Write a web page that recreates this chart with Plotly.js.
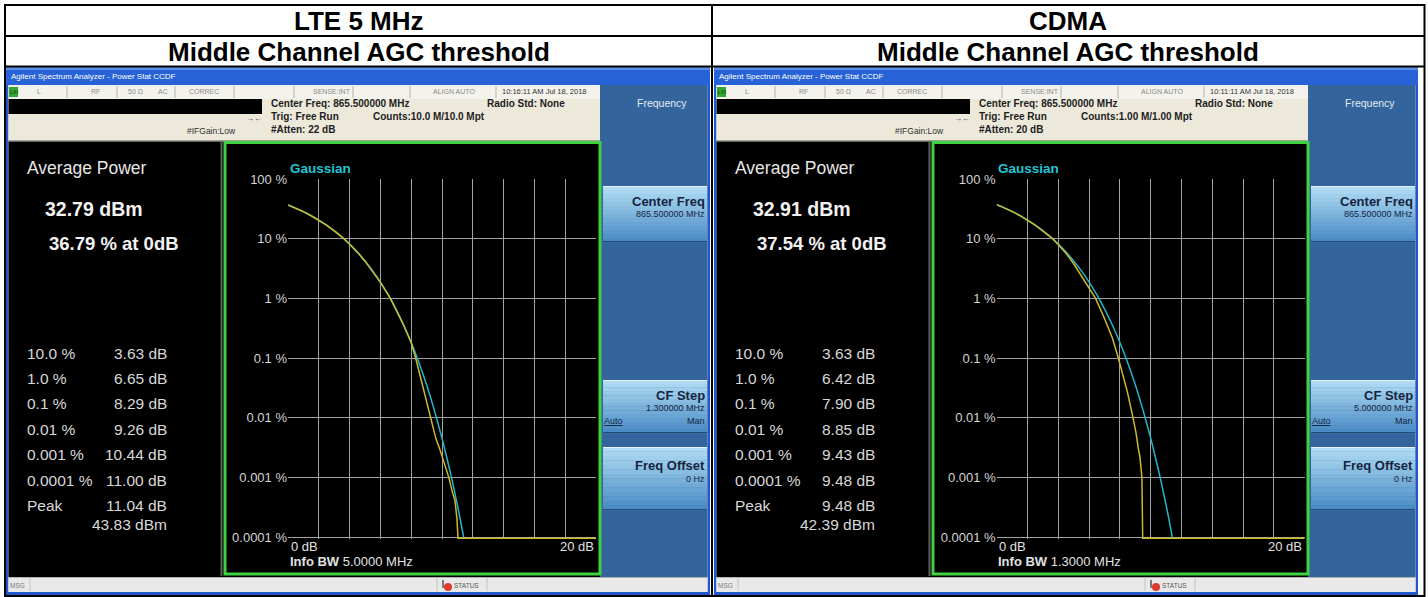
<!DOCTYPE html>
<html>
<head>
<meta charset="utf-8">
<script src="https://cdn.plot.ly/plotly-3.0.1.min.js"></script>
<style>
  html, body { margin: 0; padding: 0; background: #ffffff; }
  #chart { width: 1428px; height: 597px; }
</style>
</head>
<body>
<div id="chart"></div>
<script>
// ---------------- measurement data ----------------
const panelHeads = ['LTE 5 MHz', 'CDMA'];
const panelSubHead = 'Middle Channel AGC threshold';

// CCDF probability axis (percent)
const ccdfTickVals = [0.0001, 0.001, 0.01, 0.1, 1, 10, 100];
const ccdfTickText = ['0.0001 %', '0.001 %', '0.01 %', '0.1 %', '1 %', '10 %', '100 %'];

// Gaussian reference trace (dB above average power, percent of time)
const gaussDb  = [0, 0.5, 1, 1.5, 2, 2.5, 3, 3.5, 4, 4.5, 5, 5.5, 6, 6.5, 7, 7.5, 8, 8.5, 9, 9.5, 10, 10.5, 10.75, 11, 11.1, 11.2, 11.3, 11.42];
const gaussPct = [36.79, 32.56, 28.40, 24.35, 20.50, 16.90, 13.60, 10.66, 8.11, 5.97, 4.23, 2.88, 1.87, 1.15, 0.665, 0.361, 0.182, 0.0843, 0.0355, 0.0134, 0.00454, 0.00134, 0.000689, 0.000343, 0.000255, 0.000188, 0.000138, 0.000095];

// LTE 5 MHz measured CCDF trace
const lteDb  = [0, 0.5, 1, 1.5, 2, 2.5, 3, 3.63, 4, 4.5, 5, 5.5, 6, 6.65, 7, 7.5, 8, 8.29, 8.6, 8.9, 9.1, 9.26, 9.45, 9.6, 9.85, 10.1, 10.3, 10.44, 10.65, 10.85, 10.97, 11.00, 11.04, 20];
const ltePct = [36.79, 32.4, 28.3, 24.2, 20.4, 16.8, 13.5, 10.0, 8.05, 5.95, 4.2, 2.85, 1.85, 1.0, 0.66, 0.36, 0.18, 0.1, 0.048, 0.024, 0.015, 0.01, 0.0065, 0.0045, 0.003, 0.0019, 0.0013, 0.001, 0.0006, 0.0004, 0.0002, 0.0001, 0.000095, 0.000095];

// CDMA measured CCDF trace
const cdmaDb  = [0, 0.5, 1, 1.5, 2, 2.5, 3, 3.63, 4, 4.5, 5, 5.5, 6, 6.42, 7, 7.5, 7.90, 8.2, 8.5, 8.85, 9.05, 9.2, 9.3, 9.43, 9.46, 9.48, 9.48, 20];
const cdmaPct = [37.54, 33.0, 28.7, 24.5, 20.5, 16.8, 13.4, 10.0, 7.9, 5.7, 3.8, 2.35, 1.45, 1.0, 0.46, 0.22, 0.1, 0.052, 0.026, 0.01, 0.0055, 0.003, 0.0022, 0.001, 0.0004, 0.0001, 0.000095, 0.000095];

// Statistics read-outs
const statLabels = ['10.0 %', '1.0 %', '0.1 %', '0.01 %', '0.001 %', '0.0001 %', 'Peak'];
const lteStatDb  = [3.63, 6.65, 8.29, 9.26, 10.44, 11.00, 11.04];
const cdmaStatDb = [3.63, 6.42, 7.90, 8.85, 9.43, 9.48, 9.48];
const avgPowerDbm = [32.79, 32.91];
const pctAt0dB    = [36.79, 37.54];
const peakDbm     = [43.83, 42.39];
const infoBw      = ['5.0000 MHz', '1.3000 MHz'];
const cfStep      = ['1.300000 MHz', '5.000000 MHz'];
const timeStamps  = ['10:16:11 AM Jul 18, 2018', '10:11:11 AM Jul 18, 2018'];
const countsText  = ['Counts:10.0 M/10.0 Mpt', 'Counts:1.00 M/1.00 Mpt'];
const attenText   = ['#Atten: 22 dB', '#Atten: 20 dB'];
const centerFreq  = '865.500000 MHz';

// ---------------- drawing helpers ----------------
const W = 1428, H = 597;
const FONT = 'Liberation Sans, Arial, sans-serif';
const YELLOW = '#cdb92c';
const CYAN = '#25b4c7';
const GRID = '#a2a2a2';
const shapes = [];
const annotations = [];
const X = x => x / W;
const Y = y => 1 - y / H;

function box(x0, y0, x1, y1, fill, line, layer) {
  shapes.push({
    type: 'rect', xref: 'paper', yref: 'paper',
    x0: X(x0), x1: X(x1), y0: Y(y1), y1: Y(y0),
    fillcolor: fill || 'rgba(0,0,0,0)',
    line: line ? { color: line.color, width: line.width } : { width: 0 },
    layer: layer || 'below'
  });
}
function seg(x0, y0, x1, y1, color, width, layer) {
  shapes.push({
    type: 'line', xref: 'paper', yref: 'paper',
    x0: X(x0), x1: X(x1), y0: Y(y0), y1: Y(y1),
    line: { color: color, width: width }, layer: layer || 'below'
  });
}
function note(x, y, text, o) {
  o = o || {};
  annotations.push({
    xref: o.xref || 'paper', yref: 'paper',
    x: o.xref ? x : X(x), y: Y(y),
    text: text, showarrow: false,
    xanchor: o.anchor || 'left', yanchor: 'middle',
    xshift: o.xshift || 0,
    borderpad: 0, borderwidth: 0,
    font: { family: o.family || FONT, size: o.size || 12, color: o.color || '#000000' }
  });
}
function mix(c0, c1, t) {
  const r = Math.round(c0[0] + (c1[0] - c0[0]) * t);
  const g = Math.round(c0[1] + (c1[1] - c0[1]) * t);
  const b = Math.round(c0[2] + (c1[2] - c0[2]) * t);
  return 'rgb(' + r + ',' + g + ',' + b + ')';
}
// soft-key button with a top-to-bottom shading
function softButton(x0, y0, x1, y1) {
  const n = 14, top = [176, 219, 242], bottom = [74, 140, 198];
  const h = (y1 - y0) / n;
  for (let i = 0; i < n; i++) {
    box(x0, y0 + i * h, x1, y0 + (i + 1) * h + 0.3, mix(top, bottom, i / (n - 1)));
  }
  seg(x0, y0 + 0.5, x1, y0 + 0.5, '#e2f2fb', 1);
  seg(x0, y1 - 0.5, x1, y1 - 0.5, '#24476f', 1);
}

// one analyzer screen; dx shifts it horizontally
function drawScreen(dx, k) {
  const L = x => x + dx;

  // window title bar
  box(L(6), 67, L(710), 85, '#2763d6');
  box(L(6), 67, L(710), 70, '#5a8fe6');
  note(L(11), 76.5, 'Agilent Spectrum Analyzer - Power Stat CCDF', { size: 8, color: '#ffffff' });

  // window frame
  box(L(6), 85, L(8.5), 595, '#2157c9');
  box(L(707.5), 85, L(710), 595, '#2157c9');
  box(L(6), 592, L(710), 595, '#2157c9');

  // status line
  box(L(8.5), 85, L(600), 99, '#f4f2ec');
  box(L(9), 87, L(18), 97, '#34a834');
  note(L(9.5), 92, 'LXI', { size: 5.5, color: '#0a3a0a' });
  [67, 117, 175, 234, 294, 353, 410, 496].forEach(x => seg(L(x), 86, L(x), 98, '#b4b2aa', 1));
  const statusItems = [[37, 'L'], [91, 'RF'], [128, '50 Ω'], [158, 'AC'], [189, 'CORREC'], [313, 'SENSE:INT'], [433, 'ALIGN AUTO']];
  statusItems.forEach(s => note(L(s[0]), 92, s[1], { size: 7, color: '#8a8a8a' }));
  note(L(502), 92, timeStamps[k], { size: 7.5, color: '#333333' });

  // measurement setup area
  box(L(8.5), 99, L(600), 141, '#ece8da');
  box(L(8.5), 99, L(262), 114, '#000000');
  note(L(271), 103.5, '<b>Center Freq: ' + centerFreq + '</b>', { size: 10, color: '#1e1e1e' });
  note(L(487), 103.5, '<b>Radio Std: None</b>', { size: 10, color: '#1e1e1e' });
  note(L(271), 116.5, '<b>Trig: Free Run</b>', { size: 10, color: '#1e1e1e' });
  note(L(373), 116.5, '<b>' + countsText[k] + '</b>', { size: 10, color: '#1e1e1e' });
  note(L(271), 129.5, '<b>' + attenText[k] + '</b>', { size: 10, color: '#1e1e1e' });
  note(L(187), 131, '#IFGain:Low', { size: 8.5, color: '#303030' });
  note(L(246), 119, '→←', { size: 8, color: '#303030' });

  // display background
  box(L(8.5), 141, L(601), 577, '#000000');
  seg(L(8.5), 141, L(601), 141, '#8f8b80', 1.5);
  seg(L(221.5), 142, L(221.5), 576, '#5e5e5e', 2);

  // soft-key column
  box(L(600), 85, L(707.5), 577, '#33649c');
  note(L(662), 103, 'Frequency', { size: 10.5, color: '#e2ebf5', anchor: 'center' });
  softButton(L(603), 186, L(707), 242);
  note(L(705), 201, '<b>Center Freq</b>', { size: 13, color: '#16253f', anchor: 'right' });
  note(L(705), 214, centerFreq, { size: 9, color: '#16253f', anchor: 'right' });
  softButton(L(603), 380, L(707), 433);
  note(L(705), 395, '<b>CF Step</b>', { size: 13, color: '#16253f', anchor: 'right' });
  note(L(705), 408, cfStep[k], { size: 9, color: '#16253f', anchor: 'right' });
  note(L(604), 421, '<u>Auto</u>', { size: 9, color: '#16253f' });
  note(L(705), 421, 'Man', { size: 9, color: '#16253f', anchor: 'right' });
  softButton(L(603), 447, L(707), 510);
  note(L(705), 465, '<b>Freq Offset</b>', { size: 13, color: '#16253f', anchor: 'right' });
  note(L(705), 479, '0 Hz', { size: 9, color: '#16253f', anchor: 'right' });

  // message bar
  box(L(8.5), 577, L(707.5), 592, '#e9e9e9');
  seg(L(8.5), 577.5, L(707.5), 577.5, '#b0b0b0', 1);
  seg(L(30), 578, L(30), 591, '#c4c4c4', 1);
  seg(L(437), 578, L(437), 591, '#c4c4c4', 1);
  seg(L(487), 578, L(487), 591, '#c4c4c4', 1);
  note(L(10), 585, 'MSG', { size: 6.5, color: '#7a7a7a' });
  shapes.push({ type: 'circle', xref: 'paper', yref: 'paper', x0: X(L(444)), x1: X(L(452)), y0: Y(591), y1: Y(583), fillcolor: '#e03a2c', line: { width: 0 }, layer: 'above' });
  seg(L(443), 580, L(443), 588, '#555555', 1.5, 'above');
  note(L(454), 585, 'STATUS', { size: 6.5, color: '#555555' });

  // left read-out panel
  note(L(27), 168, 'Average Power', { size: 17.5, color: '#e6e6e6' });
  note(L(45), 209, '<b>' + avgPowerDbm[k].toFixed(2) + ' dBm</b>', { size: 19.5, color: '#f2f2f2' });
  note(L(49), 243, '<b>' + pctAt0dB[k].toFixed(2) + ' % at 0dB</b>', { size: 18.5, color: '#f2f2f2' });
  const statDb = k === 0 ? lteStatDb : cdmaStatDb;
  statLabels.forEach((lab, i) => {
    const y = 353 + i * 25.4;
    note(L(27), y, lab, { size: 15.5, color: '#d8d8d8' });
    note(L(167), y, statDb[i].toFixed(2) + ' dB', { size: 15.5, color: '#d8d8d8', anchor: 'right' });
  });
  note(L(167), 524.5, peakDbm[k].toFixed(2) + ' dBm', { size: 15.5, color: '#d8d8d8', anchor: 'right' });

  // trace window frame and labels
  box(L(225), 142.5, L(600), 574, null, { color: '#3fd13f', width: 3 }, 'above');
  note(L(290), 169, '<b>Gaussian</b>', { size: 13.5, color: '#22c4d4' });
  const xr = k === 0 ? 'x' : 'x2';
  note(0, 546, '0 dB', { xref: xr, size: 13, color: '#e2e2e2', xshift: 2.5 });
  note(20, 546, '20 dB', { xref: xr, size: 13, color: '#e2e2e2', anchor: 'right', xshift: -2.5 });
  note(L(290), 561, '<b>Info BW</b> ' + infoBw[k], { size: 13, color: '#e2e2e2' });
}

drawScreen(0, 0);
drawScreen(708, 1);

// table header cells
note(358.5, 20.5, '<b>' + panelHeads[0] + '</b>', { size: 26, anchor: 'center', color: '#000000' });
note(1068, 20.5, '<b>' + panelHeads[1] + '</b>', { size: 26, anchor: 'center', color: '#000000' });
note(358.5, 52, '<b>' + panelSubHead + '</b>', { size: 26, anchor: 'center', color: '#000000' });
note(1068, 52, '<b>' + panelSubHead + '</b>', { size: 26, anchor: 'center', color: '#000000' });

// table rules
box(5, 5, 1424.5, 596, null, { color: '#000000', width: 2 }, 'above');
seg(5, 36, 1424.5, 36, '#000000', 2, 'above');
seg(5, 66.5, 1424.5, 66.5, '#000000', 2, 'above');
seg(712, 5, 712, 596, '#000000', 2, 'above');

// ---------------- CCDF plots ----------------
const yTop = 179, pxPerDecade = 59.67, yRange = [-4.035, 2];
const yBottom = yTop + (yRange[1] - yRange[0]) * pxPerDecade;

function xAxis(x0, x1) {
  return {
    domain: [X(x0), X(x1)], range: [0, 20], tick0: 0, dtick: 2,
    showgrid: true, gridcolor: GRID, gridwidth: 1, zeroline: false,
    showticklabels: false, ticks: '', showline: false, fixedrange: true
  };
}
function yAxis(anchor) {
  return {
    type: 'log', domain: [Y(yBottom), Y(yTop)], range: yRange, anchor: anchor,
    tickmode: 'array', tickvals: ccdfTickVals, ticktext: ccdfTickText,
    showgrid: true, gridcolor: GRID, gridwidth: 1, zeroline: false,
    ticks: '', showline: false, fixedrange: true,
    tickfont: { family: FONT, size: 13, color: '#d4d4d4' }
  };
}

const traces = [
  { x: gaussDb, y: gaussPct, xaxis: 'x', yaxis: 'y', mode: 'lines', hoverinfo: 'skip',
    line: { color: CYAN, width: 1.5, shape: 'spline', smoothing: 0.6 } },
  { x: lteDb, y: ltePct, xaxis: 'x', yaxis: 'y', mode: 'lines', hoverinfo: 'skip',
    line: { color: YELLOW, width: 1.5 } },
  { x: gaussDb, y: gaussPct, xaxis: 'x2', yaxis: 'y2', mode: 'lines', hoverinfo: 'skip',
    line: { color: CYAN, width: 1.5, shape: 'spline', smoothing: 0.6 } },
  { x: cdmaDb, y: cdmaPct, xaxis: 'x2', yaxis: 'y2', mode: 'lines', hoverinfo: 'skip',
    line: { color: YELLOW, width: 1.5 } }
];

const layout = {
  width: W, height: H,
  margin: { l: 0, r: 0, t: 0, b: 0, pad: 0 },
  paper_bgcolor: '#ffffff', plot_bgcolor: 'rgba(0,0,0,0)',
  showlegend: false,
  xaxis: xAxis(288, 596),
  yaxis: yAxis('x'),
  xaxis2: xAxis(288 + 708.7, 596 + 708.7),
  yaxis2: yAxis('x2'),
  shapes: shapes,
  annotations: annotations
};

Plotly.newPlot('chart', traces, layout, { displayModeBar: false, staticPlot: true });
</script>
</body>
</html>
